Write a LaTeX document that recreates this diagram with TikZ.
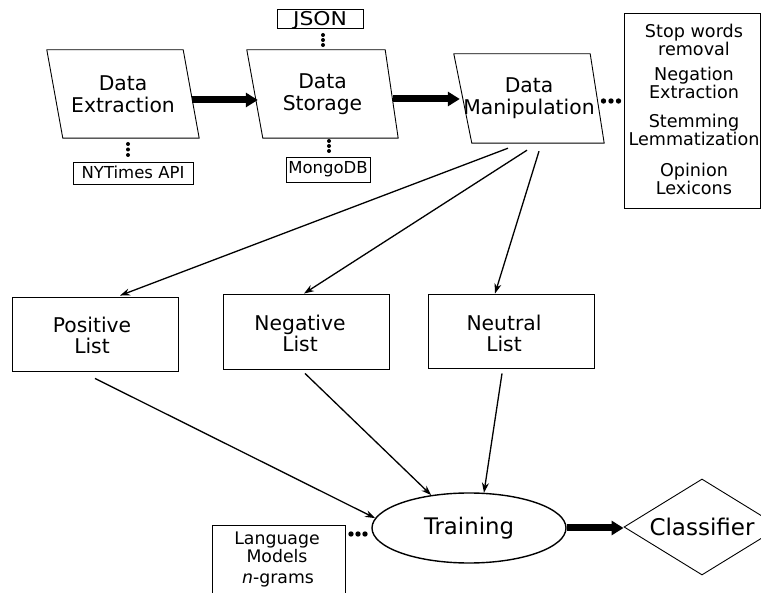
\documentclass[tikz,border=0pt]{standalone}
\usepackage{fontspec}
\setmainfont{DejaVu Sans}
\usetikzlibrary{arrows.meta,shapes.geometric,calc}

\begin{document}
\begin{tikzpicture}[x=1pt,y=-1pt,
  frame/.style={draw, line width=0.9pt},
  paranode/.style={inner sep=0pt, align=center, font=\fontsize{20.3}{22}\selectfont},
  boxnode/.style={draw, line width=0.9pt, rectangle, inner sep=0pt},
  bigtext/.style={align=center, font=\fontsize{20.3}{21}\selectfont},
  smalltext/.style={font=\fontsize{16.5}{18}\selectfont},
  sidetext/.style={align=center, font=\fontsize{17.6}{16.5}\selectfont},
  lmtext/.style={align=center, font=\fontsize{17.3}{16.5}\selectfont},
  thickarrow/.style={line width=7pt, -{Triangle[length=12pt,width=14pt]}},
  thinarrow/.style={line width=1.3pt, -{Stealth[length=10pt,width=7pt]}},
]
\useasboundingbox (0,0) rectangle (761,593);

% parallelogram processes
\node[paranode, minimum width=152pt, minimum height=88pt] (ext) at (123,94) {Data\\Extraction};
\node[paranode, minimum width=151pt, minimum height=88pt] (sto) at (322.5,94) {Data\\Storage};
\node[paranode, minimum width=150pt, minimum height=89pt] (man) at (529,98.5) {Data\\Manipulation};
\draw[frame] (ext.north west) -- ($(ext.north east)+(-16,0)$) -- (ext.south east) -- ($(ext.south west)+(16,0)$) -- cycle;
\draw[frame] (sto.north west) -- ($(sto.north east)+(-13,0)$) -- (sto.south east) -- ($(sto.south west)+(16,0)$) -- cycle;
\draw[frame] (man.north west) -- ($(man.north east)+(-14,0)$) -- (man.south east) -- ($(man.south west)+(18,0)$) -- cycle;

% small annotation boxes
\node[boxnode, minimum width=86pt, minimum height=19pt, font=\fontsize{19}{19}\selectfont\addfontfeatures{FakeStretch=1.15}, text height=13.8pt, text depth=0pt] (json) at (320,18.5) {JSON};
\node[boxnode, minimum width=120pt, minimum height=22pt, smalltext, text height=12pt, text depth=0pt] (nyt) at (133,173) {NYTimes API};
\node[boxnode, minimum width=84pt, minimum height=25pt, smalltext, text height=12pt, text depth=3pt] (mongo) at (328,169.5) {MongoDB};

% operations box
\node[boxnode, minimum width=136pt, minimum height=195pt] (ops) at (692,110.5) {};
\node[sidetext] (op1) at (694,40) {Stop words\\removal};
\node[sidetext] (op2) at (694,82.5) {Negation\\Extraction};
\node[sidetext] (op3) at (694,130) {Stemming\\Lemmatization};
\node[sidetext] (op4) at (694,178.5) {Opinion\\Lexicons};

% lists
\node[boxnode, minimum width=166pt, minimum height=74pt] (pos) at (95,334) {};
\node[boxnode, minimum width=166pt, minimum height=75pt] (neg) at (306,331.5) {};
\node[boxnode, minimum width=166pt, minimum height=74pt] (neu) at (511,331) {};
\node[bigtext] (posT) at (92,335) {Positive\\List};
\node[bigtext] (negT) at (300,333) {Negative\\List};
\node[bigtext] (neuT) at (504,333) {Neutral\\List};

% training and classifier
\node[ellipse, draw, line width=1.4pt, minimum width=194pt, minimum height=70pt, inner sep=0pt, font=\fontsize{22.8}{24}\selectfont] (train) at (469,528) {Training};
\node[diamond, draw, line width=0.9pt, aspect=1.625, minimum width=156pt, minimum height=96pt, inner sep=0pt, font=\fontsize{23}{24}\selectfont] (cls) at (702,527) {Classifier};

% language models box
\node[boxnode, minimum width=133pt, minimum height=75pt] (lm) at (278.5,562.5) {};
\node[lmtext] (lmT) at (277,547) {Language\\Models};
\node[lmtext] (ngT) at (278,580) {\textit{n}-grams};

% thick arrows
\draw[thickarrow] ($(ext.east)+(-7,6)$) -- ($(sto.west)+(11,6)$);
\draw[thickarrow] ($(sto.east)+(-5,5)$) -- ($(man.west)+(6,0.5)$);
\draw[thickarrow] (train.east) -- (train.east -| cls.west);

% thin arrows
\draw[thinarrow] ($(man.south)+(-21,5)$) -- ($(pos.north)+(25,-1)$);
\draw[thinarrow] ($(man.south)+(-2,7)$) -- ($(neg.north)+(-2,0)$);
\draw[thinarrow] ($(man.south)+(10,8)$) -- ($(neu.north)+(-16,0)$);
\draw[thinarrow] ($(pos.south)+(0,7)$) -- (train.174);
\draw[thinarrow] ($(neg.south)+(-1,4)$) -- (train.139);
\draw[thinarrow] ($(neu.south)+(-9,5)$) -- (train.67);

% dotted links
\foreach \x in {603.5,611,618.5} \fill (\x,101) circle (2.7pt);
\foreach \x in {351,358,365} \fill (\x,534) circle (2.7pt);
\foreach \y in {144,149.5,155} \fill (128,\y) circle (2pt);
\foreach \y in {141,146,151} \fill (329,\y) circle (2pt);
\foreach \y in {35,40,45} \fill (323,\y) circle (2pt);
\end{tikzpicture}
\end{document}
